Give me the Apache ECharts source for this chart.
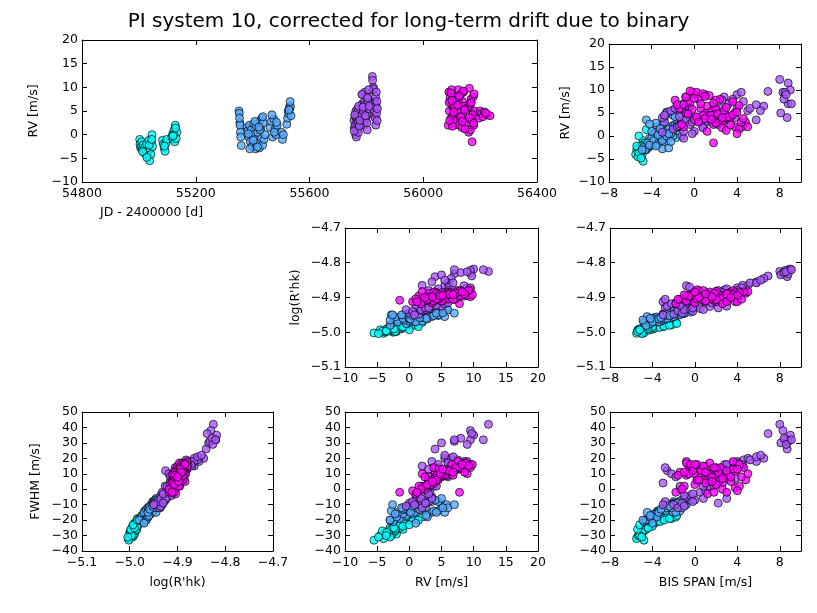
<!DOCTYPE html>
<html>
<head>
<meta charset="utf-8">
<script src="https://cdn.jsdelivr.net/npm/echarts@6/dist/echarts.min.js"></script>
<style>
html, body { margin: 0; padding: 0; background: #fff; }
#main { width: 817px; height: 613px; }
</style>
</head>
<body>
<div id="main"></div>
<script>
// one entry per observation, grouped by observing season (4 seasons)
var jd = [
    55003, 55004, 55006, 55008, 55010, 55012, 55015, 55018, 55020, 55022, 55025, 55027, 55030, 55032, 55035, 55038, 55040, 55042, 55044, 55046, 55048,
    55083, 55086, 55089, 55092, 55095, 55098, 55116, 55119, 55121, 55124, 55126, 55128, 55131, 55134,
    55013, 55028, 55036, 55045, 55090, 55123, 55129, 55120,

    55352, 55353, 55355, 55356, 55357, 55358, 55360,
    55380, 55383, 55386, 55389, 55392, 55395, 55398, 55401, 55404, 55407, 55410, 55412, 55415, 55418, 55421, 55424, 55427, 55429, 55431, 55433, 55435, 55437, 55440, 55443,
    55462, 55466, 55470, 55474, 55478, 55482, 55486, 55502, 55505, 55508,
    55520, 55523, 55525, 55527, 55529, 55531, 55533, 55535,
    55354, 55390, 55408, 55417, 55426, 55436, 55468, 55484, 55528, 55532,
    55385, 55402, 55422, 55476,

    55756, 55758, 55760, 55761, 55762, 55763, 55764, 55765, 55766, 55767, 55768, 55769, 55770, 55771, 55772, 55774, 55776,
    55782, 55785, 55787, 55789, 55791, 55793, 55795, 55797, 55799, 55801, 55803, 55805, 55807, 55809,
    55821, 55822, 55823, 55824, 55825, 55826, 55827, 55828, 55829, 55830, 55831, 55832, 55833, 55834, 55835, 55836, 55837, 55838,
    55757, 55773, 55775, 55784, 55792, 55798, 55802, 55806, 55808, 55839,
    55759, 55777, 55788, 55796, 55804, 55810,

    56088, 56090, 56092, 56094, 56096, 56098, 56100, 56102, 56104, 56106, 56108, 56110,
    56118, 56120, 56122, 56124, 56126, 56128, 56130, 56132, 56134, 56136, 56138, 56140, 56142, 56144, 56146, 56148, 56150,
    56160, 56162, 56164, 56166, 56168, 56170, 56172, 56174, 56176, 56178, 56180,
    56192, 56196, 56200, 56205, 56210, 56215, 56225, 56235,
    56091, 56097, 56103, 56109, 56125, 56133, 56141, 56147, 56165, 56173, 56179, 56220,
    56093, 56101, 56107, 56121, 56127, 56137, 56145, 56163, 56169, 56177
];
var rv = [
    -1.0, -2.0, -2.8, -2.5, -1.5, -3.0, -2.2, -3.5, -2.7, -4.0, -3.2, -2.0, -3.8, -4.5, -1.2, -5.5, -3.0, -4.2, -1.5, 0.0, -2.5,
    -1.2, -2.0, -2.8, -3.5, -1.8, -1.0, -0.5, 0.2, -1.0, 1.0, -1.5, 2.0, -0.8, 0.5,
    -3.6, -4.8, -2.2, -1.0, -2.4, 0.0, 1.4, -0.3,

    5.0, 4.5, 2.5, 2.0, 0.5, -0.5, -2.3,
    1.5, 0.8, -0.5, 2.0, -1.5, 1.0, -2.5, 0.0, 2.3, -1.0, -3.0, 1.8, -2.0, 0.5, -1.8, -2.8, 3.0, 1.2, -0.8, 3.5, -2.2, 2.5, -1.0, 0.0,
    1.5, 2.8, -0.5, 3.3, 1.0, 0.0, 2.0, 0.5, -1.0, 0.0,
    2.2, 3.5, 5.0, 4.5, 5.8, 5.5, 6.0, 4.0,
    3.5, -3.0, 2.8, -2.6, 1.0, 3.8, 4.2, 2.6, 5.2, 7.0,
    0.2, -1.2, 1.6, 0.5,

    3.0, 1.5, 4.0, 2.0, 0.0, 5.0, 3.5, -0.5, 2.5, 4.5, 1.0, 3.2, 5.5, 2.8, 0.5, 3.8, 2.2,
    4.0, 6.5, 8.5, 5.0, 2.0, 7.0, 9.0, 3.0, 6.0, 8.0, 1.0, 4.5, 7.5, 5.5,
    12.3, 11.5, 9.5, 10.0, 9.5, 9.7, 4.0, 5.0, 7.0, 6.5, 3.5, 8.0, 2.0, 6.0, 9.0, 4.5, 7.0, 3.0,
    0.8, 6.0, 1.8, 8.5, 6.2, 3.5, 2.5, 6.8, 9.5, 5.5,
    4.2, 3.0, 5.8, 4.0, 7.8, 6.0,

    2.0, 9.0, 5.0, 7.8, 7.0, 3.5, 9.5, 6.0, 4.0, 2.5, 8.0, 5.5,
    3.0, 7.5, 4.5, 9.5, 2.0, 6.5, 3.5, 8.5, 5.0, 1.5, 7.0, 4.0, 9.0, 6.0, 3.0, 5.5, 2.5,
    0.5, 9.8, 6.0, 1.0, 7.5, 3.0, -1.5, 4.5, 8.0, 2.0, 5.0,
    4.0, 3.5, 5.0, 4.5, 3.8, 4.8, 4.2, 4.0,
    6.8, 8.8, 1.8, 5.8, 7.8, 3.8, 9.2, 1.2, 6.6, 4.2, 8.6, 4.6,
    3.0, 7.2, 4.8, 6.2, 8.2, 2.8, 5.2, 3.6, 6.8, 2.4
];
var bis = [
    -4.8, -5.0, -5.3, -5.1, -4.6, -5.4, -4.9, -5.2, -4.7, -5.5, -4.8, -4.4, -5.0, -5.3, -4.2, -4.8, -4.5, -4.9, -3.9, -3.4, -4.3,
    -3.6, -4.0, -4.6, -5.0, -3.8, -3.2, -3.0, -2.6, -3.3, -2.2, -4.0, -1.8, -2.9, -2.4,
    -5.2, -5.0, -5.4, -4.0, -4.4, -5.2, -4.5, -1.7,

    -2.5, -2.0, -3.0, -3.5, -3.8, -4.2, -4.5,
    -3.0, -3.6, -4.0, -2.4, -4.4, -2.8, -4.8, -3.2, -2.0, -3.8, -4.6, -1.5, -4.2, -2.6, -3.4, -3.0, -1.2, -2.2, -3.0, -1.0, -3.6, -1.8, -2.6, -2.0,
    -2.4, -1.6, -3.0, -1.2, -2.0, -2.8, -1.4, -2.2, -3.0, -2.6,
    -1.6, -1.0, -0.6, -1.4, -0.8, -2.0, -1.2, -0.4,
    -4.5, -4.9, -3.6, -2.4, -4.0, -2.8, -1.8, -4.2, -2.6, -1.0,
    -3.4, -2.2, -3.2, -2.4,

    -2.8, -2.0, -3.0, -1.6, -1.2, -2.6, -0.8, -1.0, -0.4, -2.8, 0.0, 0.5, -2.2, 1.0, -0.2, 1.4, -1.4,
    0.2, 1.8, 2.8, -0.6, 0.8, 3.2, 4.0, 1.6, 2.4, 3.6, -1.0, 1.0, 4.6, 5.0,
    8.0, 8.8, 8.3, 9.0, 8.5, 6.9, 8.7, 8.1, 8.8, 6.5, 5.8, 8.4, 4.5, 5.2, 8.6, 3.0, 9.1, 2.2,
    -3.0, -1.8, 0.8, -0.8, -0.5, 3.0, 2.2, 5.8, 4.4, 6.2,
    -1.4, -0.2, 2.0, 3.8, 2.6, 4.0,

    -1.0, 0.0, 1.0, -1.8, -0.4, 2.0, -0.2, 0.6, 3.0, -1.2, 0.4, 1.6,
    2.6, -0.6, 0.8, 0.2, 3.8, 1.2, 0.0, -0.8, 2.2, 4.2, 0.6, 3.4, 1.0, -1.4, 4.8, 2.8, 1.8,
    4.0, -0.4, 2.0, 1.2, 3.6, 4.4, 1.8, 1.4, 2.4, 5.0, -0.8,
    3.0, 2.4, 3.8, 1.6, 4.6, 2.2, 3.2, 2.6,
    -1.6, 1.4, 2.6, -0.2, 2.0, 1.0, 0.8, 3.0, 4.2, 0.2, 1.0, 3.6,
    0.4, 1.8, -0.6, 3.0, 0.0, 2.0, 4.0, 1.6, -1.0, 3.4
];
var rhk = [
    -4.985, -4.998, -4.992, -5.000, -4.988, -4.994, -4.998, -4.990, -4.996, -5.003, -4.988, -4.992, -4.999, -4.993, -4.990, -5.002, -4.985, -4.997, -4.990, -4.978, -4.994,
    -4.980, -4.991, -4.986, -4.998, -4.988, -4.976, -4.984, -4.975, -4.986, -4.979, -4.982, -4.972, -4.983, -4.980,
    -4.996, -5.004, -4.998, -4.985, -4.990, -4.993, -4.984, -4.975,

    -4.942, -4.952, -4.948, -4.968, -4.958, -4.975, -4.968,
    -4.950, -4.970, -4.960, -4.958, -4.964, -4.947, -4.972, -4.968, -4.940, -4.958, -4.980, -4.950, -4.962, -4.944, -4.970, -4.950, -4.946, -4.940, -4.965, -4.945, -4.956, -4.937, -4.960, -4.955,
    -4.943, -4.950, -4.948, -4.946, -4.940, -4.962, -4.936, -4.958, -4.950, -4.960,
    -4.938, -4.946, -4.930, -4.950, -4.932, -4.955, -4.936, -4.942,
    -4.955, -4.965, -4.962, -4.950, -4.970, -4.952, -4.945, -4.960, -4.944, -4.945,
    -4.962, -4.950, -4.958, -4.952,

    -4.928, -4.948, -4.912, -4.938, -4.945, -4.925, -4.920, -4.935, -4.935, -4.905, -4.925, -4.932, -4.918, -4.915, -4.940, -4.926, -4.918,
    -4.898, -4.903, -4.878, -4.910, -4.908, -4.897, -4.872, -4.915, -4.888, -4.892, -4.912, -4.895, -4.882, -4.865,
    -4.825, -4.820, -4.830, -4.818, -4.822, -4.838, -4.840, -4.835, -4.832, -4.845, -4.855, -4.828, -4.865, -4.858, -4.826, -4.875, -4.820, -4.880,
    -4.950, -4.915, -4.935, -4.866, -4.870, -4.925, -4.930, -4.858, -4.872, -4.850,
    -4.922, -4.930, -4.894, -4.900, -4.886, -4.880,

    -4.902, -4.885, -4.910, -4.918, -4.890, -4.912, -4.898, -4.885, -4.908, -4.904, -4.880, -4.905,
    -4.895, -4.900, -4.892, -4.878, -4.912, -4.888, -4.915, -4.896, -4.890, -4.895, -4.906, -4.884, -4.894, -4.905, -4.888, -4.903, -4.898,
    -4.912, -4.892, -4.886, -4.904, -4.880, -4.905, -4.908, -4.893, -4.895, -4.883, -4.910,
    -4.892, -4.908, -4.886, -4.904, -4.884, -4.900, -4.888, -4.902,
    -4.905, -4.884, -4.918, -4.892, -4.882, -4.910, -4.880, -4.912, -4.886, -4.904, -4.890, -4.892,
    -4.900, -4.888, -4.896, -4.890, -4.884, -4.906, -4.894, -4.898, -4.892, -4.900
];
var fwhm = [
    -26, -29, -30, -28, -25, -31, -27, -29, -26, -32, -27, -24, -28, -30, -23, -33, -25, -27, -22, -20, -24,
    -21, -23, -26, -28, -22, -20, -19, -18, -21, -19, -23, -18, -20, -19,
    -30, -31, -26, -24, -25, -23, -20, -17,

    -10, -8, -12, -14, -16, -18, -20,
    -13, -15, -17, -11, -19, -12, -21, -14, -9, -16, -20, -8, -18, -11, -15, -14, -7, -10, -13, -6, -16, -9, -12, -10,
    -11, -9, -13, -7, -10, -12, -8, -11, -13, -12,
    -9, -8, -6, -14, -10, -15, -12, -7,
    -15, -20, -18, -10, -22, -14, -15, -17, -12, -10,
    -15, -12, -13, -11,

    -8, -10, 4, -12, -9, 12, -5, -11, -4, 14, -7, -2, 10, -1, -8, 2, 0,
    6, 12, 16, 10, 2, 14, 18, 5, 11, 17, -4, 8, 19, 20,
    42, 32, 38, 35, 32, 36, 26, 30, 31, 20, 18, 33, 15, 19, 29, 16, 32, 13,
    -10, 8, -6, 18, 15, -6, -9, 21, 16, 22,
    2, -3, 9, 7, 13, 17,

    2, 10, 8, -2, 12, 5, 14, 9, 7, 0, 13, 11,
    4, 15, 6, 16, 1, 10, 3, 17, 8, 2, 12, 5, 15, 11, 6, 9, 2,
    -1, 16, 13, -3, 18, 8, -2, 7, 14, 10, 9,
    10, 6, 12, 8, 14, 11, 9, 7,
    9, 17, 0, 12, 14, 4, 15, -2, 16, 6, 11, 13,
    6, 14, 10, 12, 16, 3, 13, 5, 11, 8
];

// season boundaries (JD) and the colour of each season
var seasonStarts = [55300, 55650, 56000];
var seasonColors = ['#00ffff', '#55aaff', '#aa55ff', '#ff00ff'];

var titleText = 'PI system 10, corrected for long-term drift due to binary';
var fontFamily = 'DejaVu Sans';
var fontSize = 12.5;

// axis ranges [min, max, interval]
var jdRange   = [54800, 56400, 400];
var rvRange   = [-10, 20, 5];
var bisRange  = [-8, 10, 4];
var rhkRange  = [-5.1, -4.7, 0.1];
var fwhmRange = [-40, 50, 10];

var panels = [
    {x: 'jd',  y: 'rv',   box: [82, 40, 455, 142],  xr: jdRange,  yr: rvRange,   yName: 'RV [m/s]',   yGap: 39},
    {x: 'bis', y: 'rv',   box: [609, 44, 192, 138], xr: bisRange, yr: rvRange,   yName: 'RV [m/s]',   yGap: 37},
    {x: 'rv',  y: 'rhk',  box: [345, 228, 193, 139], xr: rvRange, yr: rhkRange,  yName: "log(R'hk)",  yGap: 43},
    {x: 'bis', y: 'rhk',  box: [610, 228, 191, 139], xr: bisRange, yr: rhkRange},
    {x: 'rhk', y: 'fwhm', box: [82, 412, 191, 139], xr: rhkRange, yr: fwhmRange, yName: 'FWHM [m/s]', yGap: 40, xName: "log(R'hk)"},
    {x: 'rv',  y: 'fwhm', box: [345, 412, 193, 139], xr: rvRange, yr: fwhmRange, xName: 'RV [m/s]'},
    {x: 'bis', y: 'fwhm', box: [610, 412, 191, 139], xr: bisRange, yr: fwhmRange, xName: 'BIS SPAN [m/s]'}
];

function seasonColor(t)
{
    var k = 0;
    while(k < seasonStarts.length && t >= seasonStarts[k]) k++;
    return seasonColors[k];
}

function tickFormatter(range)
{
    var decimals = range[2] < 1 ? 1 : 0;
    return function(v)
    {
        var n = (v - range[0]) / range[2];
        if(Math.abs(n - Math.round(n)) > 1e-6) return '';
        return v.toFixed(decimals).replace('-', '\u2212');
    };
}

function makeAxis(range, gridIndex, position, showLabel, name, gap)
{
    var axis = {
        type: 'value',
        gridIndex: gridIndex,
        position: position,
        min: range[0],
        max: range[1],
        interval: range[2],
        axisLine: {show: true, onZero: false, lineStyle: {color: '#000', width: 1}},
        axisTick: {show: true, inside: true, length: 5, lineStyle: {color: '#000', width: 1}},
        splitLine: {show: false},
        axisLabel: {
            show: showLabel,
            margin: (position == 'bottom') ? 5 : 4,
            color: '#000',
            fontFamily: fontFamily,
            fontSize: fontSize,
            showMinLabel: true,
            showMaxLabel: true,
            formatter: tickFormatter(range)
        }
    };
    if(name)
    {
        axis.name = name;
        axis.nameLocation = 'middle';
        axis.nameGap = gap;
        axis.nameTextStyle = {color: '#000', fontFamily: fontFamily, fontSize: fontSize};
    }
    return axis;
}

var source = jd.map(function(t, i) { return [t, rv[i], bis[i], rhk[i], fwhm[i]]; });

var grids = [], xAxes = [], yAxes = [], series = [];
panels.forEach(function(p, i)
{
    grids.push({left: p.box[0], top: p.box[1], width: p.box[2], height: p.box[3], containLabel: false});
    xAxes.push(makeAxis(p.xr, i, 'bottom', true, p.xName, 25));
    xAxes.push(makeAxis(p.xr, i, 'top', false));
    yAxes.push(makeAxis(p.yr, i, 'left', true, p.yName, p.yGap));
    yAxes.push(makeAxis(p.yr, i, 'right', false));
    series.push({
        type: 'scatter',
        datasetIndex: 0,
        xAxisIndex: 2 * i,
        yAxisIndex: 2 * i,
        encode: {x: p.x, y: p.y},
        symbolSize: 8,
        itemStyle: {
            color: function(params) { return seasonColor(params.value[0]); },
            borderColor: 'rgba(0,0,0,0.85)',
            borderWidth: 1
        },
        emphasis: {disabled: true}
    });
});

var chart = echarts.init(document.getElementById('main'));
chart.setOption({
    animation: false,
    title: {
        text: titleText,
        left: 'center',
        top: 7,
        textStyle: {color: '#000', fontFamily: fontFamily, fontSize: 20, fontWeight: 'normal'}
    },
    dataset: {dimensions: ['jd', 'rv', 'bis', 'rhk', 'fwhm'], source: source},
    grid: grids,
    xAxis: xAxes,
    yAxis: yAxes,
    series: series,
    graphic: [{
        type: 'text',
        left: 100,
        top: 206,
        style: {text: 'JD - 2400000 [d]', fill: '#000', font: fontSize + 'px "' + fontFamily + '"'}
    }]
});
</script>
</body>
</html>
